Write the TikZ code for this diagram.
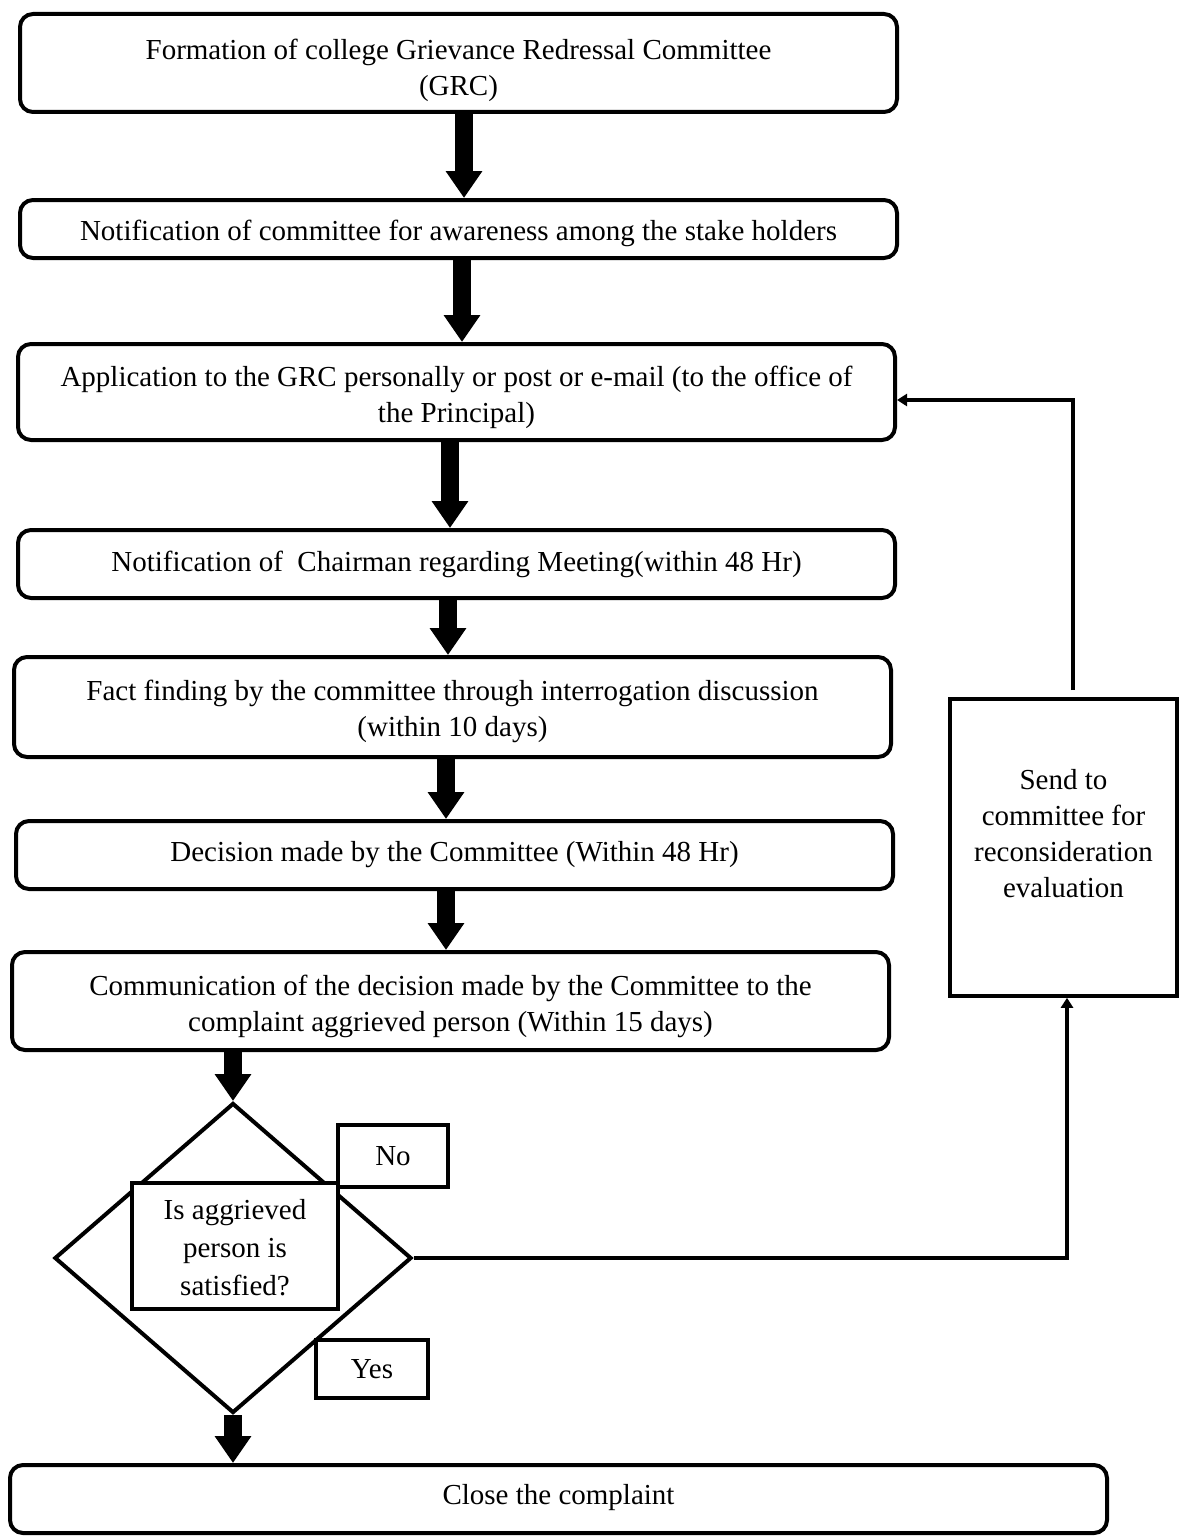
\documentclass[tikz,border=0pt]{standalone}
\usepackage{fontspec}
\setmainfont{Liberation Serif}
\usetikzlibrary{arrows.meta,shapes.geometric,calc}
\newcommand\shiftedtext[2]{\raisebox{#1}[\height][\depth]{\begin{tabular}{@{}c@{}}#2\end{tabular}}}
\begin{document}
\begin{tikzpicture}[x=0.5pt,y=-0.5pt,
  txt/.style={font=\fontsize{14.5}{18}\selectfont},
  stepbox/.style={draw,line width=2pt,rounded corners=6.5pt,align=center,txt,inner sep=0pt,minimum width=438.5pt},
  plainbox/.style={draw,line width=2pt,align=center,txt,inner sep=0pt,fill=white},
  bigarrow/.style={line width=9pt,-{Triangle[length=13.5pt,width=17.5pt]}},
  thinarrow/.style={line width=2pt,-{Triangle[length=5pt,width=6pt]}}]
\useasboundingbox (0,0) rectangle (1179,1536);
% boxes
\node[stepbox,minimum height=49pt] (b1) at (458.5,63) {\shiftedtext{-3.5pt}{Formation of college Grievance Redressal Committee\\(GRC)}};
\node[stepbox,minimum height=29pt] (b2) at (458.5,229) {\shiftedtext{-2pt}{Notification of committee for awareness among the stake holders}};
\node[stepbox,minimum height=48pt] (b3) at (456.5,392) {\shiftedtext{-2.5pt}{Application to the GRC personally or post or e-mail (to the office of\\the Principal)}};
\node[stepbox,minimum height=34pt] (b4) at (456.5,564) {Notification of\ \ Chairman regarding Meeting(within 48 Hr)};
\node[stepbox,minimum height=50pt] (b5) at (452.5,707) {\shiftedtext{-2pt}{Fact finding by the committee through interrogation discussion\\(within 10 days)}};
\node[stepbox,minimum height=34pt] (b6) at (454.5,855) {Decision made by the Committee (Within 48 Hr)};
\node[stepbox,minimum height=49pt] (b7) at (450.5,1001) {\shiftedtext{-2.5pt}{Communication of the decision made by the Committee to the\\complaint aggrieved person (Within 15 days)}};
\node[stepbox,minimum width=548.5pt,minimum height=34pt] (close) at (558.5,1499) {\shiftedtext{1pt}{Close the complaint}};
\node[plainbox,line width=1.8pt,minimum width=113.5pt,minimum height=148.5pt] (send) at (1063.5,847.5) {\shiftedtext{5.5pt}{Send to\\committee for\\reconsideration\\evaluation}};
% decision
\node[diamond,draw,line width=2pt,minimum width=178.5pt,minimum height=155pt,inner sep=0pt] (dec) at (233,1258) {};
\node[plainbox,minimum width=103pt,minimum height=63pt,font=\fontsize{14.5}{19}\selectfont] (q) at (235,1246) {\shiftedtext{-2pt}{Is aggrieved\\person is\\satisfied?}};
\node[plainbox,minimum width=55pt,minimum height=31pt] (no) at (393,1156) {No};
\node[plainbox,minimum width=56pt,minimum height=29pt] (yes) at (372,1369) {Yes};
% arrow x positions
\coordinate (a1) at (464,0);
\coordinate (a2) at (462,0);
\coordinate (a3) at (450,0);
\coordinate (a4) at (448,0);
\coordinate (a5) at (446,0);
\coordinate (a6) at (446,0);
\draw[bigarrow] (b1.south -| a1) -- (b2.north -| a1);
\draw[bigarrow] (b2.south -| a2) -- (b3.north -| a2);
\draw[bigarrow] (b3.south -| a3) -- (b4.north -| a3);
\draw[bigarrow] (b4.south -| a4) -- (b5.north -| a4);
\draw[bigarrow] (b5.south -| a5) -- (b6.north -| a5);
\draw[bigarrow] (b6.south -| a6) -- (b7.north -| a6);
\draw[bigarrow] (b7.south -| dec.north) -- (dec.north);
\draw[bigarrow] (dec.south) -- (close.north -| dec.south);
% feedback loop
\draw[thinarrow] (dec.east) -| ($(send.south)+(3.5,0)$);
\draw[thinarrow] ($(send.north)+(9.5,-7)$) |- ($(b3.east)+(0,8)$);
\end{tikzpicture}
\end{document}
